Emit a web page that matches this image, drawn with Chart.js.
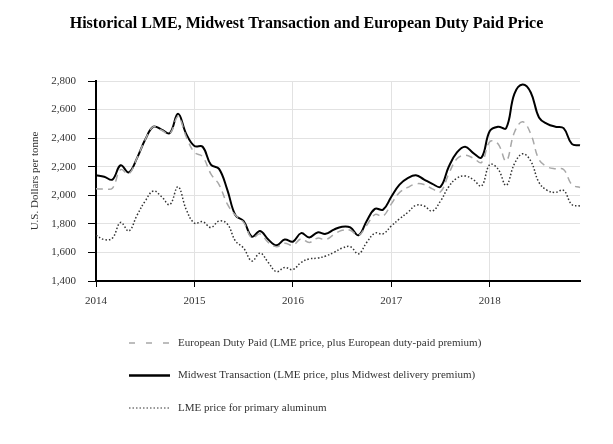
<!DOCTYPE html>
<html>
<head>
<meta charset="utf-8">
<title>Historical LME, Midwest Transaction and European Duty Paid Price</title>
<script src="https://cdn.jsdelivr.net/npm/chart.js@4"></script>
<style>
  html, body { margin: 0; padding: 0; background: #fff; }
  #wrap { width: 613px; height: 444px; }
</style>
</head>
<body>
<div id="wrap"><canvas id="priceChart" width="613" height="444"></canvas></div>
<script>
// Data (US$ per tonne, monthly Jan 2014 - Dec 2018)
const years = ['2014', '2015', '2016', '2017', '2018'];
const monthNames = ['Jan', 'Feb', 'Mar', 'Apr', 'May', 'Jun', 'Jul', 'Aug', 'Sep', 'Oct', 'Nov', 'Dec'];
const months = years.flatMap(y => monthNames.map(m => m + ' ' + y));

const europeanDutyPaid = [
  2045, 2045, 2050, 2180, 2150, 2260, 2390, 2480, 2455, 2430,
  2550, 2410, 2300, 2270, 2150, 2075, 1940, 1860, 1810, 1700,
  1730, 1670, 1640, 1665, 1650, 1695, 1670, 1700, 1690, 1725,
  1755, 1755, 1720, 1790, 1865, 1855, 1940, 2020, 2055, 2080,
  2075, 2045, 2025, 2150, 2255, 2280, 2260, 2230, 2375, 2360,
  2240, 2440, 2515, 2430, 2250, 2200, 2185, 2180, 2075, 2055
];
const midwestTransaction = [
  2140, 2130, 2110, 2210, 2160, 2260, 2390, 2480, 2460, 2435,
  2570, 2430, 2345, 2340, 2215, 2185, 2040, 1860, 1820, 1710,
  1750, 1690, 1650, 1690, 1675, 1735, 1705, 1740, 1730, 1760,
  1780, 1775, 1720, 1820, 1905, 1900, 1990, 2075, 2120, 2140,
  2110, 2080, 2060, 2200, 2300, 2340, 2295, 2265, 2450, 2480,
  2470, 2710, 2775, 2720, 2545, 2500, 2480, 2470, 2360, 2350
];
const lmePrice = [
  1720, 1690, 1700, 1810, 1750, 1860, 1960, 2030, 1990, 1935,
  2060, 1900, 1805, 1815, 1775, 1820, 1800, 1680, 1630, 1540,
  1595, 1530, 1465, 1495, 1480, 1530, 1555, 1560, 1575, 1600,
  1630, 1640, 1590, 1670, 1735, 1730, 1785, 1835, 1880, 1930,
  1925, 1890, 1960, 2060, 2120, 2135, 2110, 2065, 2215, 2185,
  2070, 2220, 2290, 2240, 2090, 2035, 2020, 2035, 1935, 1925
];

const seriesLabels = [
  'European Duty Paid (LME price, plus European duty-paid premium)',
  'Midwest Transaction (LME price, plus Midwest delivery premium)',
  'LME price for primary aluminum'
];
const chartTitle = 'Historical LME, Midwest Transaction and European Duty Paid Price';

const serif = '"Liberation Serif", "Times New Roman", serif';

// Title centred on the whole canvas, legend under the plot one row per series
const pageText = {
  id: 'pageText',
  afterDraw(chart) {
    const ctx = chart.ctx;
    ctx.save();
    ctx.fillStyle = '#000';
    ctx.font = 'bold 16px ' + serif;
    ctx.textAlign = 'center';
    ctx.textBaseline = 'middle';
    ctx.fillText(chartTitle, chart.width / 2, 24);
    ctx.restore();

    chart.data.datasets.forEach((ds, i) => {
      const y = 343 + i * 32.5;
      ctx.save();
      ctx.strokeStyle = ds.borderColor;
      ctx.lineWidth = ds.legendWidth || ds.borderWidth;
      ctx.setLineDash(ds.legendDash || ds.borderDash || []);
      ctx.beginPath();
      ctx.moveTo(129, y);
      ctx.lineTo(170, y);
      ctx.stroke();
      ctx.setLineDash([]);
      ctx.fillStyle = '#333';
      ctx.font = '11px ' + serif;
      ctx.textBaseline = 'middle';
      ctx.fillText(ds.label, 178, y);
      ctx.restore();
    });
  }
};

const ctx = document.getElementById('priceChart').getContext('2d');
new Chart(ctx, {
  type: 'line',
  data: {
    labels: months,
    datasets: [
      {
        label: seriesLabels[0],
        data: europeanDutyPaid,
        borderColor: '#a8a8a8',
        borderWidth: 1.5,
        borderDash: [7, 5],
        legendDash: [6, 11]
      },
      {
        label: seriesLabels[1],
        data: midwestTransaction,
        borderColor: '#000',
        borderWidth: 2,
        legendWidth: 2.5
      },
      {
        label: seriesLabels[2],
        data: lmePrice,
        borderColor: '#333',
        borderWidth: 1.5,
        borderDash: [1.5, 2],
        legendWidth: 1
      }
    ]
  },
  options: {
    responsive: false,
    animation: false,
    devicePixelRatio: 1,
    layout: { padding: { left: 0, right: 33, top: 81, bottom: 0 } },
    elements: {
      point: { radius: 0 },
      line: { tension: 0.4 }
    },
    plugins: {
      legend: { display: false },
      tooltip: { enabled: false },
      title: { display: false }
    },
    scales: {
      x: {
        type: 'category',
        offset: false,
        afterFit(scale) { scale.height = 163; },
        border: { color: '#000', width: 2 },
        grid: {
          color: c => c.index % 12 === 0 ? '#e2e2e2' : 'rgba(0,0,0,0)',
          tickColor: c => c.index % 12 === 0 ? '#000' : 'rgba(0,0,0,0)',
          tickLength: 6
        },
        ticks: {
          autoSkip: false,
          maxRotation: 0,
          padding: 8,
          color: '#333',
          font: { family: serif, size: 11 },
          callback(value, index) {
            return index % 12 === 0 ? years[index / 12] : '';
          }
        }
      },
      y: {
        min: 1400,
        max: 2800,
        afterFit(scale) { scale.width = 96; },
        border: { color: '#000', width: 2 },
        grid: { color: '#e2e2e2', tickColor: '#000', tickLength: 8 },
        ticks: {
          stepSize: 200,
          padding: 12,
          color: '#333',
          font: { family: serif, size: 11 },
          callback: value => value.toLocaleString('en-US')
        },
        title: {
          display: true,
          text: 'U.S. Dollars per tonne',
          color: '#333',
          font: { family: serif, size: 11 },
          padding: { top: 29, bottom: 0 }
        }
      }
    }
  },
  plugins: [pageText]
});
</script>
</body>
</html>
